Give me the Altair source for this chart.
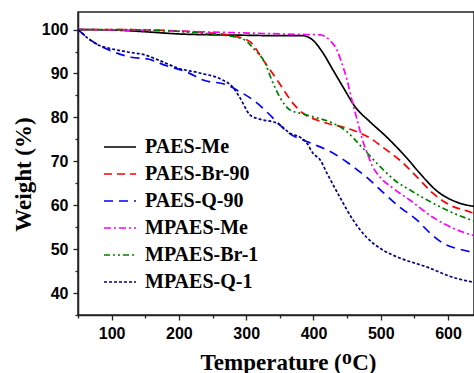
import altair as alt
import pandas as pd

# TGA curves: temperature (°C) and residual weight (%)
series = ["PAES-Me", "PAES-Br-90", "PAES-Q-90", "MPAES-Me", "MPAES-Br-1", "MPAES-Q-1"]
colors = ["#000000", "#ff0000", "#0000ff", "#ff00ff", "#008000", "#00008b"]
dashes = [[1, 0], [8, 5], [9, 6], [7, 3, 2, 3], [6, 3, 2, 3, 2, 3], [3, 2]]

paes_me_t = [50, 100, 150, 200, 250, 300, 350, 384, 399, 414, 429, 444, 462, 484, 509, 539, 558, 583, 613, 640]
paes_me_w = [100, 99.9, 99.5, 99.0, 98.8, 98.7, 98.6, 98.6, 97.6, 94.7, 90.8, 86.9, 82.4, 79.0, 75.5, 70.7, 67.3, 63.3, 60.7, 59.7]

paes_br_t = [50, 100, 157, 231, 283, 306, 325, 338, 353, 369, 384, 405, 424, 444, 465, 484, 503, 528, 554, 577, 603, 628, 640]
paes_br_w = [100, 100, 99.9, 99.4, 98.5, 97.2, 93.1, 90.3, 86.9, 83.3, 81.0, 79.4, 78.5, 77.8, 76.7, 75.3, 73.2, 70.3, 66.4, 62.8, 60.0, 58.7, 58.1]

paes_q_t = [50, 69, 100, 129, 154, 179, 212, 236, 271, 291, 310, 331, 346, 361, 395, 420, 450, 469, 484, 503, 528, 554, 573, 592, 622, 640]
paes_q_w = [100, 97.6, 95.1, 93.7, 93.3, 91.9, 90.3, 88.5, 87.4, 85.8, 84.0, 81.2, 78.9, 76.7, 74.2, 72.6, 69.8, 67.6, 65.7, 63.0, 59.6, 56.6, 53.7, 51.4, 49.8, 49.2]

mpaes_me_t = [50, 100, 157, 231, 306, 380, 410, 424, 435, 442, 450, 457, 465, 473, 481, 487, 499, 518, 543, 577, 607, 640]
mpaes_me_w = [100, 99.9, 99.8, 99.5, 99.2, 98.9, 98.8, 97.6, 95.3, 92.4, 88.5, 84.0, 79.4, 74.8, 71.4, 69.1, 66.4, 63.9, 61.2, 57.3, 54.8, 53.0]

mpaes_br_t = [50, 100, 157, 231, 276, 298, 313, 328, 338, 350, 365, 384, 405, 429, 450, 469, 494, 524, 543, 569, 598, 640]
mpaes_br_w = [100, 100, 99.9, 99.2, 98.5, 97.6, 95.3, 92.4, 88.5, 84.6, 81.7, 80.8, 79.9, 78.7, 76.7, 73.7, 69.6, 65.3, 63.5, 61.2, 58.9, 56.3]

mpaes_q_t = [50, 80, 95, 124, 150, 169, 199, 231, 265, 280, 291, 306, 320, 346, 365, 380, 390, 399, 410, 420, 439, 459, 479, 503, 528, 569, 607, 640]
mpaes_q_w = [100, 96.5, 95.8, 94.9, 94.2, 93.1, 91.2, 90.1, 88.5, 86.9, 84.4, 80.5, 79.6, 78.7, 76.4, 75.5, 74.2, 71.9, 70.3, 67.3, 61.9, 56.6, 52.7, 49.8, 48.0, 45.9, 43.6, 42.4]

curves = [
    (paes_me_t, paes_me_w),
    (paes_br_t, paes_br_w),
    (paes_q_t, paes_q_w),
    (mpaes_me_t, mpaes_me_w),
    (mpaes_br_t, mpaes_br_w),
    (mpaes_q_t, mpaes_q_w),
]

rows = []
for name, (ts, ws) in zip(series, curves):
    for t, w in zip(ts, ws):
        rows.append({"sample": name, "T": t, "W": w})
df = pd.DataFrame(rows)

x_ticks = list(range(50, 651, 50))
y_ticks = list(range(35, 106, 5))

x_axis = alt.Axis(
    values=x_ticks,
    labelExpr="datum.value % 100 === 0 ? datum.label : ''",
    tickSize={"condition": {"test": "datum.value % 100 === 0", "value": 5}, "value": 3},
    title="Temperature (\u1d3cC)",
    titleX=210, titleY=54, titleAlign="center", titleBaseline="alphabetic",
    grid=False, labelPadding=5,
)
y_axis = alt.Axis(
    values=y_ticks,
    labelExpr="datum.value % 10 === 0 ? datum.label : ''",
    tickSize={"condition": {"test": "datum.value % 10 === 0", "value": 5}, "value": 3},
    title="Weight (%)",
    titleX=-48, titleY=162, titleAngle=270, titleAlign="center", titleBaseline="alphabetic",
    grid=False, labelPadding=5,
)

legend_style = dict(
    orient="none", legendX=25, legendY=118, title=None,
    symbolType="stroke", symbolSize=1024, symbolStrokeWidth=1.5,
    labelFont="Liberation Serif", labelFontWeight="bold",
    labelFontSize=20, labelColor="black", labelOffset=8,
    rowPadding=-6.5, padding=0,
)

chart = alt.Chart(df).mark_line(strokeWidth=1.7, interpolate="monotone", clip=True).encode(
    x=alt.X("T:Q", scale=alt.Scale(domain=[50, 638.6], nice=False, zero=False), axis=x_axis),
    y=alt.Y("W:Q", scale=alt.Scale(domain=[35, 104], nice=False, zero=False), axis=y_axis),
    color=alt.Color("sample:N", scale=alt.Scale(domain=series, range=colors),
                    legend=alt.Legend(**legend_style)),
    strokeDash=alt.StrokeDash("sample:N", scale=alt.Scale(domain=series, range=dashes),
                              legend=alt.Legend(**legend_style)),
    detail="sample:N",
).properties(
    width=396, height=303,
    autosize=alt.AutoSizeParams(type="none"),
    padding={"left": 78, "top": 12, "right": 0, "bottom": 58},
).configure_view(
    stroke="#222222", strokeWidth=1.5,
).configure_axis(
    domainColor="#222222", domainWidth=1.5, tickColor="#222222", tickWidth=1.3,
    labelFont="Liberation Sans", labelFontWeight="bold", labelFontSize=16, labelColor="black",
    titleFont="Liberation Serif", titleFontWeight="bold", titleFontSize=23, titleColor="black",
)

chart.save("out.html", embed_options={"renderer": "svg", "actions": False})
